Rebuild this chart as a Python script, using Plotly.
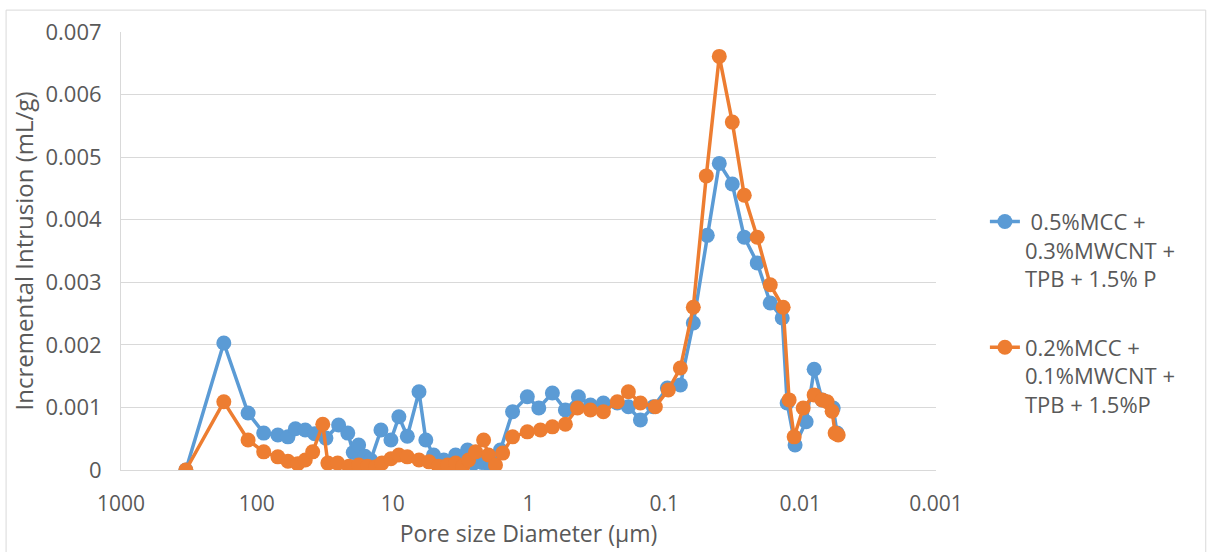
import plotly.graph_objects as go

# Pore size diameter (µm) and incremental intrusion (mL/g)
blue_name = " 0.5%MCC +<br>0.3%MWCNT +<br>TPB + 1.5% P"
blue_d = [333, 175, 116, 89, 70, 59, 52, 44, 37.5, 31, 25, 21.4, 19.5, 17.8, 16, 14.5,
          12.2, 10.3, 9.0, 7.8, 6.4, 5.7, 5.0, 4.2, 3.44, 2.81, 2.54, 2.2, 1.90, 1.61,
          1.31, 1.02, 0.84, 0.667, 0.535, 0.429, 0.350, 0.281, 0.222, 0.184, 0.150,
          0.1205, 0.095, 0.0762, 0.0612, 0.0483, 0.0394, 0.0316, 0.0258, 0.0207,
          0.0166, 0.01355, 0.01247, 0.0109, 0.00904, 0.00789, 0.00689, 0.00571, 0.00535]
blue_v = [0, 0.00203, 0.00091, 0.00059, 0.00056, 0.00053, 0.00066, 0.00064, 0.00058,
          0.00051, 0.00072, 0.00059, 0.00028, 0.00040, 0.00022, 0.00016, 0.00064,
          0.00048, 0.00085, 0.00054, 0.00125, 0.00048, 0.00024, 0.00016, 0.00024,
          0.00032, 0.00011, 0.00012, 0.00003, 0.00032, 0.00093, 0.00117, 0.00099,
          0.00123, 0.00096, 0.00117, 0.00104, 0.00107, 0.00107, 0.00101, 0.00080,
          0.00101, 0.00131, 0.00136, 0.00235, 0.00375, 0.00490, 0.00457, 0.00372,
          0.00331, 0.00267, 0.00243, 0.00107, 0.00040, 0.00077, 0.00161, 0.00112,
          0.00099, 0.00059]

orange_name = "0.2%MCC +<br>0.1%MWCNT +<br>TPB + 1.5%P"
orange_d = [333, 175, 116, 89, 70, 59, 50, 44, 38.8, 32.7, 30, 25.4, 21, 17.8, 15.3,
            13.3, 12, 10.3, 9.0, 7.8, 6.4, 5.4, 4.6, 3.94, 3.44, 3.05, 2.76, 2.45, 2.14,
            1.97, 1.75, 1.55, 1.31, 1.02, 0.817, 0.667, 0.535, 0.436, 0.350, 0.281,
            0.222, 0.184, 0.150, 0.1164, 0.0935, 0.0762, 0.0612, 0.0491, 0.0394,
            0.0316, 0.0258, 0.0207, 0.0166, 0.01334, 0.01206, 0.01107, 0.0095,
            0.00789, 0.00689, 0.00633, 0.00582, 0.00553, 0.00525]
orange_v = [0, 0.00109, 0.00048, 0.00029, 0.00021, 0.00014, 0.00010, 0.00016, 0.00029,
            0.00073, 0.00011, 0.00011, 0.00006, 0.00008, 0.00006, 0.00005, 0.00011,
            0.00018, 0.00024, 0.00021, 0.00016, 0.00013, 0.00006, 0.00008, 0.00011,
            0.00006, 0.00016, 0.00029, 0.00048, 0.00024, 0.00008, 0.00027, 0.00053,
            0.00061, 0.00064, 0.00069, 0.00073, 0.00099, 0.00096, 0.00093, 0.00109,
            0.00125, 0.00107, 0.00101, 0.00128, 0.00163, 0.00260, 0.00470, 0.00661,
            0.00556, 0.00439, 0.00372, 0.00296, 0.00260, 0.00112, 0.00053, 0.00099,
            0.00120, 0.00112, 0.00109, 0.00094, 0.00059, 0.00056]

x_ticks = [1000, 100, 10, 1, 0.1, 0.01, 0.001]
x_tick_text = ["1000", "100", "10", "1", "0.1", "0.01", "0.001"]
y_ticks = [0, 0.001, 0.002, 0.003, 0.004, 0.005, 0.006, 0.007]
y_tick_text = ["0", "0.001", "0.002", "0.003", "0.004", "0.005", "0.006", "0.007"]

BLUE = "#5B9BD5"
ORANGE = "#ED7D31"

fig = go.Figure()
fig.add_trace(go.Scatter(x=blue_d, y=blue_v, mode="lines+markers", name=blue_name,
                         legendgroup="a",
                         line=dict(color=BLUE, width=3.5),
                         marker=dict(color=BLUE, size=15)))
fig.add_trace(go.Scatter(x=orange_d, y=orange_v, mode="lines+markers", name=orange_name,
                         legendgroup="b",
                         line=dict(color=ORANGE, width=3.5),
                         marker=dict(color=ORANGE, size=15)))

fig.update_layout(
    width=1212, height=552,
    margin=dict(l=121, r=276, t=32, b=82),
    plot_bgcolor="white", paper_bgcolor="white",
    font=dict(family="Open Sans", color="#595959", size=21),
    showlegend=True,
    legend=dict(x=1.06, y=0.615, xanchor="left", yanchor="top", valign="top",
                tracegroupgap=37, font=dict(size=22), bgcolor="rgba(0,0,0,0)"),
    xaxis=dict(type="log", range=[3, -3], tickvals=x_ticks, ticktext=x_tick_text,
               showgrid=False, showline=True, linecolor="#d9d9d9", linewidth=1,
               ticks="", ticklabelstandoff=15, zeroline=False,
               tickfont=dict(size=21),
               title=dict(text="Pore size Diameter (µm)", font=dict(size=23), standoff=5)),
    yaxis=dict(range=[0, 0.007], tickvals=y_ticks, ticktext=y_tick_text,
               showgrid=True, gridcolor="#d9d9d9", gridwidth=1,
               showline=True, linecolor="#d9d9d9", linewidth=1, zeroline=False,
               ticks="", ticklabelstandoff=14,
               tickfont=dict(size=22),
               title=dict(text="Incremental Intrusion (mL/g)", font=dict(size=24), standoff=5)),
)

# outer chart border
fig.add_shape(type="rect", xref="paper", yref="paper",
              x0=-0.141, x1=1.331, y0=-0.21, y1=1.05,
              line=dict(color="#d9d9d9", width=1), fillcolor="rgba(0,0,0,0)", layer="below")

fig.write_html("out.html")
